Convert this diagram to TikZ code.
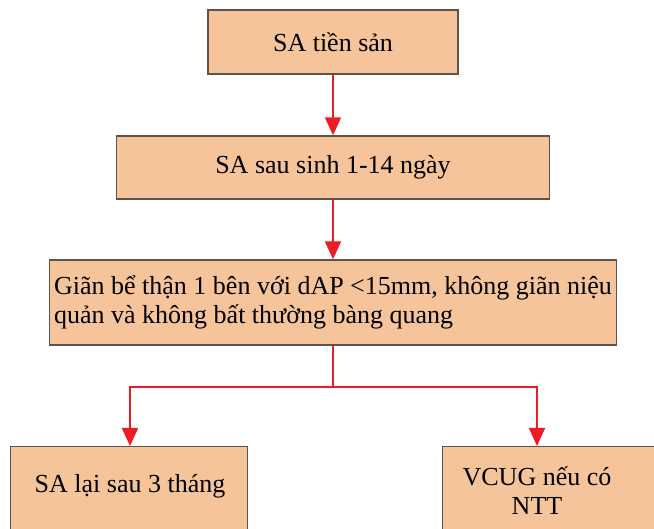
\documentclass[tikz,border=0pt]{standalone}
\usepackage{fontspec}
\setmainfont{Liberation Serif}
\usetikzlibrary{arrows.meta}
\definecolor{peach}{HTML}{F6C49A}
\definecolor{boxline}{HTML}{5F524A}
\definecolor{arrowred}{HTML}{ED1C24}

\begin{document}
\begin{tikzpicture}[x=1pt, y=-1pt,
    box/.style={draw=boxline, line width=1.4pt, fill=peach, inner sep=0pt},
    txt/.style={font=\fontsize{26}{29}\selectfont},
    wire/.style={draw=arrowred, line width=1.8pt},
    link/.style={wire, -{Triangle[length=18pt, width=16pt]}}]
    \useasboundingbox (0,0) rectangle (654,529);

    % steps of the follow-up
    \node(prenatal)[box, txt, minimum width=250, minimum height=64] at (333,42) {SA tiền sản};
    \node(postnatal)[box, txt, minimum width=433, minimum height=63] at (333,167.5) {SA sau sinh 1-14 ngày};
    \node(dilat)[box, txt, minimum width=567, minimum height=85, align=left] at (333,302.5)
        {Giãn bể thận 1 bên với dAP <15mm, không giãn niệu\\quản và không bất thường bàng quang};

    % the two outcomes (cut at the bottom edge)
    \node(recheck)[box, anchor=north west, minimum width=237, minimum height=100] at (10,446) {};
    \node(recheckt)[txt] at (130,486) {SA lại sau 3 tháng};
    \node(vcug)[box, anchor=north west, minimum width=260, minimum height=100] at (442,446) {};
    \node(vcugt)[txt, align=center] at (537,491) {VCUG nếu có\\NTT};

    \coordinate(fork) at (333,387);

    \draw[link] (prenatal) -- (postnatal);
    \draw[link] (postnatal) -- (dilat);
    \draw[wire] (dilat.south) -- (fork);
    \draw[link] (fork) -| (recheckt |- recheck.north);
    \draw[link] (fork) -| (vcugt |- vcug.north);
\end{tikzpicture}
\end{document}
